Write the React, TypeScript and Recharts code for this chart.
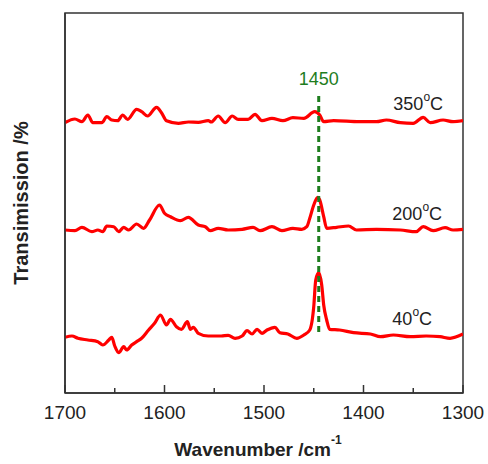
import React from 'react';
import { LineChart, Line, XAxis, YAxis, ReferenceLine, ReferenceArea, ReferenceDot } from 'recharts';

// Wavenumbers (cm^-1) and transmission (arbitrary units, offset per temperature)
const wn350 = [1700,1690,1683,1677,1672,1663,1658,1653,1647,1642,1637,1628,1623,1617,1608,1603,1598,1586,1576,1566,1556,1553,1546,1539,1532,1526,1516,1509,1502,1492,1481,1471,1460,1449,1444,1440,1430,1404,1387,1377,1363,1350,1340,1333,1320,1310,1300];
const t350 = [270.3,274,271.3,278,270.3,270.3,276.3,273,272.3,278,273.7,283.7,281.3,277,285.7,280.3,272.3,269.7,271,270.7,272.3,271,277,270.3,277,273.7,273.7,278.7,272.3,274.7,272.3,275.3,274.7,281.3,278,271.3,272.3,271.3,271.3,273,270.3,269.7,275.7,270.3,273,271.3,272.3];

const wn200 = [1700,1690,1683,1673,1667,1662,1658,1651,1646,1641,1636,1628,1621,1615,1605,1600,1594,1584,1576,1566,1559,1554,1546,1536,1522,1511,1504,1492,1482,1471,1462,1457,1454,1450,1446,1444,1440,1437,1427,1415,1407,1387,1363,1347,1340,1330,1318,1310,1300];
const t200 = [163,162.3,165.7,161.3,163,161.3,167,166.3,161.3,165.7,163,169,164.7,173,188,179.7,176.3,172.3,175.7,168,166.3,162.3,164.7,163,163.7,165.7,162.3,166.3,162.3,164.7,163.7,166.3,174.7,188,195.7,193,176.3,164.7,165.7,167,163,163.7,163,161.3,166.3,162.3,165.3,163,163.7];

const wn40 = [1700,1693,1687,1677,1667,1662,1656,1653,1650,1646,1641,1638,1633,1628,1623,1616,1610,1604,1598,1594,1588,1583,1577,1574,1571,1566,1556,1543,1536,1529,1522,1517,1512,1507,1502,1497,1489,1484,1476,1467,1460,1454,1450,1448,1445,1442,1440,1437,1434,1424,1410,1393,1383,1370,1353,1337,1323,1313,1300];
const t40 = [55.7,57,54.7,53,51.3,48,53,55.7,47,40.3,46.3,43,48,51.3,54.7,63,69.7,78,68,73.7,66.3,63.7,71.3,63.7,65.7,59.7,57,57,57.7,54.7,57,62.3,59,63.7,59.7,63,65.7,60.3,59,54.7,58,63,86.3,113,120.3,108,88,73,63.7,63,60.3,59,56.3,58,56.3,57,56.3,54.7,59];

const xTicks = [1700,1650,1600,1550,1500,1450,1400,1350,1300];
const tempLabels = ['350', '200', '40'];
const tempLabelPos = [[1370, 283], [1371, 173], [1371, 68]];
const markerWn = 1445;
const markerLabel = '1450';
const markerRange = [61, 298];

const toPts = (xs: number[], ys: number[]) => xs.map((x, i) => ({ x, y: ys[i] }));
const d350 = toPts(wn350, t350);
const d200 = toPts(wn200, t200);
const d40 = toPts(wn40, t40);

const FONT = 'Liberation Sans, Arial, sans-serif';

const XTick = (props: any) => {
  const { x, y, payload } = props;
  const v = payload.value;
  const major = v % 100 === 0;
  return (
    <g>
      <line x1={x} x2={x} y1={y} y2={y - (major ? 8 : 5)} stroke="#333" strokeWidth={1.5} />
      {major && (
        <text x={x} y={y + 26} textAnchor="middle" fontSize={19} fontFamily={FONT} fill="#222">{v}</text>
      )}
    </g>
  );
};

const tempLabel = (t: string) => (props: any) => {
  const vb = props.viewBox || {};
  const x = vb.x + (vb.width || 0) / 2;
  const y = vb.y + (vb.height || 0) / 2;
  return (
    <text x={x} y={y} fontSize={18} fontFamily={FONT} fill="#222">
      {t}
      <tspan dy={-9} fontSize={12}>o</tspan>
      <tspan dy={9} fontSize={18}>C</tspan>
    </text>
  );
};

const xTitle = (props: any) => {
  const vb = props.viewBox;
  return (
    <text x={vb.x + vb.width / 2 - 6} y={vb.y + 63} textAnchor="middle" fontSize={19} fontWeight="bold" fontFamily={FONT} fill="#222">
      Wavenumber /cm<tspan dy={-12} fontSize={12}>-1</tspan>
    </text>
  );
};

const yTitle = (props: any) => {
  const vb = props.viewBox;
  const cy = vb.y + vb.height / 2;
  return (
    <text x={21} y={cy} transform={`rotate(-90 21 ${cy})`} textAnchor="middle" dominantBaseline="central" fontSize={20} fontWeight="bold" fontFamily={FONT} fill="#222">
      Transimission /%
    </text>
  );
};

export default function App() {
  return (
    <div style={{ position: 'absolute', left: 0, top: 0, background: '#fff' }}>
      <LineChart width={488} height={464} margin={{ top: 13, right: 25, bottom: 0, left: 0 }}>
        <XAxis
          dataKey="x"
          type="number"
          domain={[1300, 1700]}
          reversed
          ticks={xTicks}
          interval={0}
          tick={<XTick />}
          tickLine={false}
          tickSize={0}
          tickMargin={0}
          height={71}
          axisLine={{ stroke: '#333', strokeWidth: 1.5 }}
          label={xTitle}
          allowDataOverflow
        />
        <YAxis
          type="number"
          domain={[0, 380]}
          tick={false}
          tickLine={false}
          width={65}
          axisLine={{ stroke: '#333', strokeWidth: 1.5 }}
          label={yTitle}
          allowDataOverflow
        />
        <ReferenceArea x1={1700} x2={1300} y1={0} y2={380} fill="none" stroke="#333" strokeWidth={1.5} />
        <Line data={d350} type="monotone" dataKey="y" stroke="#ff0000" strokeWidth={3.2} dot={false} isAnimationActive={false} />
        <Line data={d200} type="monotone" dataKey="y" stroke="#ff0000" strokeWidth={3.2} dot={false} isAnimationActive={false} />
        <Line data={d40} type="monotone" dataKey="y" stroke="#ff0000" strokeWidth={3.2} dot={false} isAnimationActive={false} />
        <ReferenceLine
          segment={[{ x: markerWn, y: markerRange[0] }, { x: markerWn, y: markerRange[1] }]}
          stroke="#1e7d1e"
          strokeWidth={3}
          strokeDasharray="6 4"
          label={{ value: markerLabel, position: 'top', fill: '#1e7d1e', fontSize: 18, fontFamily: FONT, offset: 10 }}
        />
        {tempLabels.map((t, i) => (
          <ReferenceDot key={t} x={tempLabelPos[i][0]} y={tempLabelPos[i][1]} r={0} fill="none" stroke="none" label={tempLabel(t)} />
        ))}
      </LineChart>
    </div>
  );
}
